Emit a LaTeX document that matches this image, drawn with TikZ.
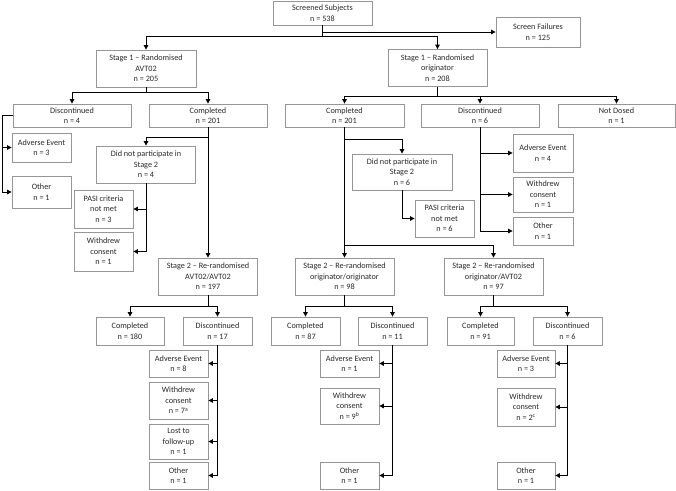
\documentclass[tikz,border=0pt]{standalone}
\usepackage{fontspec}
\setmainfont{Carlito}
\usetikzlibrary{arrows.meta}
\definecolor{boxgray}{RGB}{150,150,150}
\definecolor{txtgray}{RGB}{40,40,40}
\tikzset{
  bx/.style={draw=boxgray, line width=0.8pt, rectangle, inner sep=0pt, align=center,
    text=txtgray, font=\fontsize{8.2}{10.6}\selectfont},
  arr/.style={draw=black, line width=0.9pt, -{Triangle[length=4.5pt,width=4.5pt]}},
}
\begin{document}
\begin{tikzpicture}[x=1pt,y=-1pt]
\useasboundingbox (0,0) rectangle (676,490);
% top
\node[bx, minimum width=99, minimum height=24] (scr) at (322.5,13) {Screened Subjects\\n = 538};
\node[bx, minimum width=84, minimum height=30] (sf) at (538,32) {Screen Failures\\n = 125};
\node[bx, minimum width=100, minimum height=37] (s1a) at (146,68.5) {Stage 1 – Randomised\\AVT02\\n = 205};
\node[bx, minimum width=99, minimum height=37] (s1b) at (437.5,68) {Stage 1 – Randomised\\originator\\n = 208};
% row 2
\node[bx, minimum width=118, minimum height=23] (d1) at (72,115.5) {Discontinued\\n = 4};
\node[bx, minimum width=118, minimum height=23] (c1) at (208,115.5) {Completed\\n = 201};
\node[bx, minimum width=119, minimum height=23] (c2) at (344.5,115.5) {Completed\\n = 201};
\node[bx, minimum width=118, minimum height=23] (d2) at (480,115.5) {Discontinued\\n = 6};
\node[bx, minimum width=117, minimum height=23] (nd) at (616.5,115.5) {Not Dosed\\n = 1};
% left stage 1 details
\node[bx, minimum width=59, minimum height=29] (ae1) at (41.5,147.5) {Adverse Event\\n = 3};
\node[bx, minimum width=59, minimum height=32] (o1) at (41.5,192) {Other\\n = 1};
\node[bx, minimum width=99, minimum height=37] (dnp1) at (146,164.5) {Did not participate in\\Stage 2\\n = 4};
\node[bx, minimum width=59, minimum height=38] (pasi1) at (103.5,209) {PASI criteria\\not met\\n = 3};
\node[bx, minimum width=59, minimum height=39] (wc1) at (103.5,251.5) {Withdrew\\consent\\n = 1};
% right stage 1 details
\node[bx, minimum width=100, minimum height=36] (dnp2) at (402,172) {Did not participate in\\Stage 2\\n = 6};
\node[bx, minimum width=59, minimum height=37] (pasi2) at (444.5,218.5) {PASI criteria\\not met\\n = 6};
\node[bx, minimum width=60, minimum height=38] (ae2) at (543,153) {Adverse Event\\n = 4};
\node[bx, minimum width=60, minimum height=35] (wc2) at (543,194.5) {Withdrew\\consent\\n = 1};
\node[bx, minimum width=60, minimum height=28] (o2) at (543,231) {Other\\n = 1};
% stage 2
\node[bx, minimum width=99, minimum height=37] (s2a) at (208,276.5) {Stage 2 – Re-randomised\\AVT02/AVT02\\n = 197};
\node[bx, minimum width=99, minimum height=37] (s2b) at (344.5,276.5) {Stage 2 – Re-randomised\\originator/originator\\n = 98};
\node[bx, minimum width=99, minimum height=37] (s2c) at (493.5,276.5) {Stage 2 – Re-randomised\\originator/AVT02\\n = 97};
% stage 2 outcomes
\node[bx, minimum width=68, minimum height=28] (c3) at (130,331) {Completed\\n = 180};
\node[bx, minimum width=69, minimum height=28] (d3) at (217.5,331) {Discontinued\\n = 17};
\node[bx, minimum width=69, minimum height=28] (c4) at (305.5,331) {Completed\\n = 87};
\node[bx, minimum width=69, minimum height=28] (d4) at (392.5,331) {Discontinued\\n = 11};
\node[bx, minimum width=67, minimum height=28] (c5) at (480.5,331) {Completed\\n = 91};
\node[bx, minimum width=69, minimum height=28] (d5) at (567.5,331) {Discontinued\\n = 6};
% stage 2 discontinuation reasons
\node[bx, minimum width=59, minimum height=27] (ae3) at (178.5,363.5) {Adverse Event\\n = 8};
\node[bx, minimum width=59, minimum height=37] (wc3) at (178.5,400.5) {Withdrew\\consent\\n = 7\textsuperscript{a}};
\node[bx, minimum width=59, minimum height=35] (lf3) at (178.5,441.5) {Lost to\\follow-up\\n = 1};
\node[bx, minimum width=59, minimum height=27] (o3) at (178.5,475.5) {Other\\n = 1};
\node[bx, minimum width=59, minimum height=27] (ae4) at (349.5,363.5) {Adverse Event\\n = 1};
\node[bx, minimum width=59, minimum height=36] (wc4) at (349.5,406) {Withdrew\\consent\\n = 9\textsuperscript{b}};
\node[bx, minimum width=59, minimum height=27] (o4) at (349.5,475.5) {Other\\n = 1};
\node[bx, minimum width=58, minimum height=27] (ae5) at (526,363.5) {Adverse Event\\n = 3};
\node[bx, minimum width=58, minimum height=38] (wc5) at (526,407) {Withdrew\\consent\\n = 2\textsuperscript{c}};
\node[bx, minimum width=58, minimum height=27] (o5) at (526,475.5) {Other\\n = 1};
% connectors
\draw[arr] (scr.south) |- (sf.west);
\draw[arr] (scr.south) -- ++(0,11) -| (s1a.north);
\draw[arr] (scr.south) ++(0,11) -| (s1b.north);
\draw[arr] (s1a.south) -- ++(0,5.5) -| (d1.north);
\draw[arr] (s1a.south) ++(0,5.5) -| (c1.north);
\draw[arr] (s1b.south) -- ++(0,9.5) -| (c2.north);
\draw[arr] (s1b.south) ++(0,9.5) -| (d2.north);
\draw[arr] (s1b.south) ++(0,9.5) -| (nd.north);
\draw[arr] (d1.west) -- ++(-10.3,0) |- (ae1.west);
\draw[arr] (d1.west) ++(-10.3,0) |- (o1.west);
\draw[arr] (c1.south) -- (s2a.north);
\draw[arr] (c1.south) ++(0,10) -| (dnp1.north);
\draw[arr] (dnp1.south) |- (pasi1.east);
\draw[arr] (dnp1.south) |- (wc1.east);
\draw[arr] (c2.south) -- (s2b.north);
\draw[arr] (c2.south) ++(0,118) -| (s2c.north);
\draw[arr] (c2.south) ++(0,12) -| (dnp2.north);
\draw[arr] (dnp2.south) |- (pasi2.west);
\draw[arr] (d2.south) |- (ae2.west);
\draw[arr] (d2.south) |- (wc2.west);
\draw[arr] (d2.south) |- (o2.west);
\draw[arr] (s2a.south) -- ++(0,11) -| (c3.north);
\draw[arr] (s2a.south) ++(0,11) -| (d3.north);
\draw[arr] (s2b.south) -- ++(0,11) -| (c4.north);
\draw[arr] (s2b.south) ++(0,11) -| (d4.north);
\draw[arr] (s2c.south) -- ++(0,11) -| (c5.north);
\draw[arr] (s2c.south) ++(0,11) -| (d5.north);
\draw[arr] (d3.south) |- (ae3.east);
\draw[arr] (d3.south) |- (wc3.east);
\draw[arr] (d3.south) |- (lf3.east);
\draw[arr] (d3.south) |- (o3.east);
\draw[arr] (d4.south) |- (ae4.east);
\draw[arr] (d4.south) |- (wc4.east);
\draw[arr] (d4.south) |- (o4.east);
\draw[arr] (d5.south) |- (ae5.east);
\draw[arr] (d5.south) |- (wc5.east);
\draw[arr] (d5.south) |- (o5.east);
\end{tikzpicture}
\end{document}
